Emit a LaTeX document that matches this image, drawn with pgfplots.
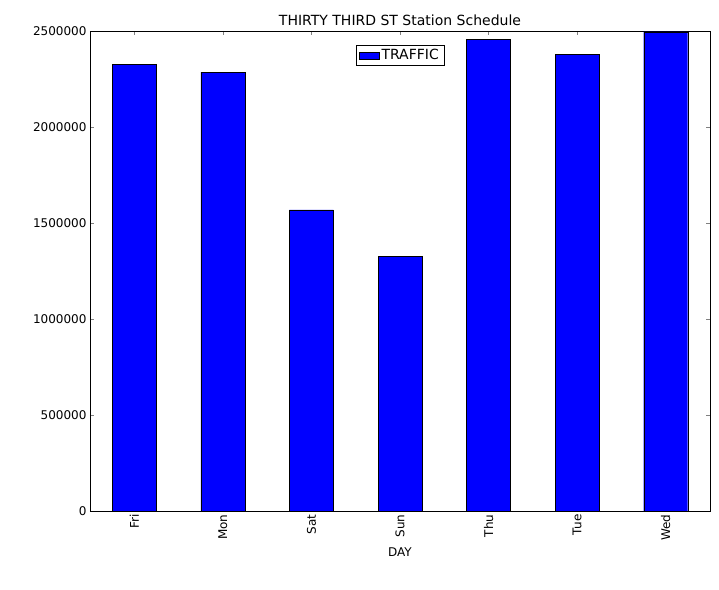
\documentclass[border=0pt]{standalone}
\usepackage{pgfplots}
\pgfplotsset{compat=1.18}
\usepackage{fontspec}
\setmainfont{DejaVu Sans}
\begin{document}
\begin{tikzpicture}
\begin{axis}[name=ax,
  scale only axis, width=620pt, height=480pt,
  font=\fontsize{12}{14}\selectfont,
  ybar, bar width=44pt,
  xmin=-0.5, xmax=6.5, ymin=0, ymax=2500000,
  xtick=data, xticklabels={Fri,Mon,Sat,Sun,Thu,Tue,Wed},
  x tick label style={rotate=90, anchor=east},
  ytick={0,500000,1000000,1500000,2000000,2500000},
  scaled y ticks=false,
  yticklabel style={/pgf/number format/fixed,/pgf/number format/1000 sep={}},
  /pgf/number format/assume math mode=true,
  xlabel={DAY},
  title={THIRTY THIRD ST Station Schedule},
  title style={font=\fontsize{14}{16}\selectfont, yshift=-4pt},
  tick align=inside, tick pos=both,
  legend style={at={(0.5,0.97)}, anchor=north, font=\fontsize{14}{16}\selectfont, draw=black},
  legend image code/.code={\draw[fill=blue,draw=black] (0cm,-0.12cm) rectangle (0.7cm,0.12cm);},
]
\addplot[fill=blue, draw=black] coordinates {(0,2328000) (1,2286000) (2,1568000) (3,1328000) (4,2458000) (5,2380000) (6,2495000)};
\addlegendentry{TRAFFIC}
\end{axis}
\path ([xshift=-90pt,yshift=-78pt]ax.south west) ([xshift=9pt,yshift=31pt]ax.north east);
\end{tikzpicture}
\end{document}
